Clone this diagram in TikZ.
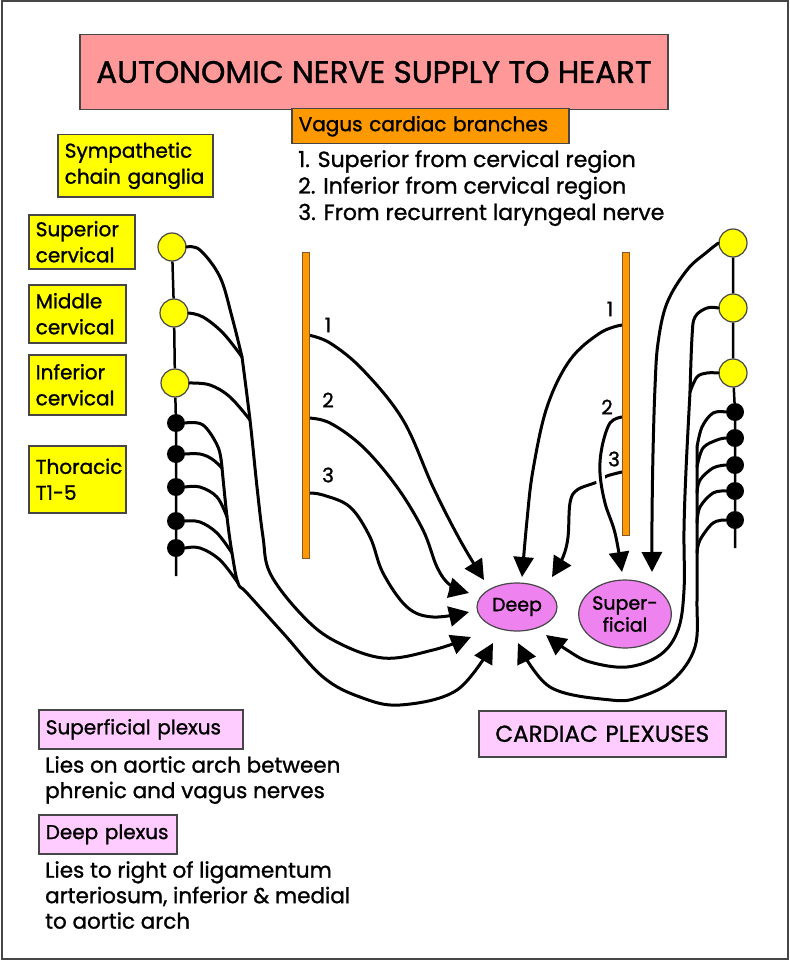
\documentclass[tikz,border=0pt]{standalone}
\usepackage{fontspec}
\setmainfont{Poppins}[FakeBold=1.2]
\usetikzlibrary{arrows.meta,shapes.geometric}

\definecolor{titlepink}{RGB}{255,153,153}
\definecolor{gangyellow}{RGB}{255,255,0}
\definecolor{vagorange}{RGB}{255,153,0}
\definecolor{plexlilac}{RGB}{255,204,255}
\definecolor{plexviolet}{RGB}{238,130,238}
\definecolor{boxgray}{RGB}{70,70,70}

\tikzset{
  boxline/.style={draw=boxgray, line width=1.5pt},
  labelbox/.style={boxline, anchor=north west, align=left, inner xsep=7pt, inner ysep=0pt,
    font=\fontsize{20}{26}\selectfont},
  gangbox/.style={labelbox, fill=gangyellow},
  plexbox/.style={labelbox, fill=plexlilac},
  notetext/.style={anchor=north west, align=left, inner xsep=7pt, inner ysep=0pt,
    font=\fontsize{21.5}{25.5}\selectfont},
  ygang/.style={circle, draw=boxgray, line width=1.2pt, fill=gangyellow, minimum size=28pt, inner sep=0pt},
  bgang/.style={circle, fill=black, minimum size=18pt, inner sep=0pt},
  chain/.style={line width=2.5pt},
  plexus/.style={ellipse, draw=boxgray, line width=1.2pt, fill=plexviolet, inner sep=0pt, align=center,
    font=\fontsize{19}{22}\selectfont},
  vagusbar/.style={draw=brown!70!black, line width=0.8pt, fill=vagorange, minimum width=7pt, inner sep=0pt},
  numlabel/.style={font=\fontsize{20}{22}\selectfont, inner sep=0pt},
  nerve/.style={line width=3pt, line cap=round, line join=round},
  toplex/.style={nerve, -{Triangle[length=20pt, width=20pt]}},
}

\begin{document}
\begin{tikzpicture}[x=1pt, y=-1pt]
\useasboundingbox (0,0) rectangle (789,960);
\draw[line width=2pt, draw=boxgray] (1.5,1.5) rectangle (787.5,958.5);

% title and boxes
\node[boxline, fill=titlepink, minimum width=588pt, minimum height=75pt,
  font=\fontsize{31}{33}\selectfont] (title) at (374,72) {AUTONOMIC NERVE SUPPLY TO HEART};
\node[labelbox, fill=vagorange, text width=263pt, minimum height=35pt] (vagbox) at (291,108) {Vagus cardiac branches};
\node[notetext, font=\fontsize{22}{26.5}\selectfont] (vaglist) at (291,150) {1. Superior from cervical region\\2. Inferior from cervical region\\3. From recurrent laryngeal nerve};

\node[gangbox, text width=141pt, minimum height=62pt] (sympbox) at (57,134) {Sympathetic\\chain ganglia};
\node[gangbox, text width=92pt, minimum height=54pt] (supbox) at (28,214) {Superior\\cervical};
\node[gangbox, text width=83pt, minimum height=58pt] (midbox) at (28,284) {Middle\\cervical};
\node[gangbox, text width=83pt, minimum height=60pt] (infbox) at (28,354) {Inferior\\cervical};
\node[gangbox, text width=83pt, minimum height=67pt] (thorbox) at (28,445) {Thoracic\\T1-5};

\node[plexbox, text width=190pt, minimum height=39pt] (supplex) at (38,709) {Superficial plexus};
\node[notetext] (supnote) at (38,756) {Lies on aortic arch between\\phrenic and vagus nerves};
\node[plexbox, text width=124pt, minimum height=39pt] (deepplex) at (38,814) {Deep plexus};
\node[notetext] (deepnote) at (38,861) {Lies to right of ligamentum\\arteriosum, inferior \& medial\\to aortic arch};
\node[plexbox, align=center, text width=233pt, minimum height=46pt, font=\fontsize{23}{26}\selectfont] (cardbox) at (478,710) {CARDIAC PLEXUSES};

% sympathetic chains
\node[ygang] (lsup) at (172,247) {};
\node[ygang] (lmid) at (174,313) {};
\node[ygang] (linf) at (175,383) {};
\node[bgang] (lt1) at (176,423) {};
\node[bgang] (lt2) at (176,454) {};
\node[bgang] (lt3) at (176,487) {};
\node[bgang] (lt4) at (176,521) {};
\node[bgang] (lt5) at (176,548) {};
\coordinate (lend) at (176,576);
\draw[chain] (lsup) -- (lmid) -- (linf) -- (lt1) -- (lt2) -- (lt3) -- (lt4) -- (lt5) -- (lend);

\node[ygang] (rsup) at (733,243) {};
\node[ygang] (rmid) at (733,308) {};
\node[ygang] (rinf) at (733,373) {};
\node[bgang] (rt1) at (735,412) {};
\node[bgang] (rt2) at (735,438) {};
\node[bgang] (rt3) at (735,465) {};
\node[bgang] (rt4) at (735,491) {};
\node[bgang] (rt5) at (735,520) {};
\coordinate (rend) at (735,548);
\draw[chain] (rsup) -- (rmid) -- (rinf) -- (rt1) -- (rt2) -- (rt3) -- (rt4) -- (rt5) -- (rend);

% plexuses
\node[plexus, minimum width=80pt, minimum height=48pt] (deep) at (517,607) {Deep};
\node[plexus, minimum width=92pt, minimum height=68pt] (superf) at (625,614) {Super-\\ficial};

% junctions and vagus branch points
\coordinate (jl1) at (242,357);
\coordinate (jl2) at (250,420);
\coordinate (jt1) at (222,468);
\coordinate (jt2) at (227,517);
\coordinate (jt3) at (232,553);
\coordinate (jt4) at (238,583);
\coordinate (jr1) at (690,392);
\coordinate (jr2) at (697,447);
\coordinate (jr3) at (697,467);
\coordinate (jr4) at (697,493);
\coordinate (jr5) at (697,523);
\coordinate (jr6) at (697,553);
\coordinate (lv1) at (308,335);
\coordinate (lv2) at (308,418);
\coordinate (lv3) at (308,493);
\coordinate (rv1) at (622,325);
\coordinate (rv2) at (622,417);
\coordinate (rv3) at (622,472);

% left sympathetic
\draw[nerve] plot[smooth, tension=0.6] coordinates {(lsup.east) (200,250) (220,277) (232,317) (jl1)};
\draw[nerve] plot[smooth, tension=0.6] coordinates {(lmid.east) (203,317) (223,333) (jl1)};
\draw[nerve] plot[smooth, tension=0.6] coordinates {(linf.east) (210,385) (230,397) (jl2)};
\draw[toplex] plot[smooth, tension=0.6] coordinates {(jl1) (jl2) (257,487) (263,537) (270,573) (300,613)
  (333,640) (383,658) (433,650) ([shift={(-46,30)}]deep.center)};
\draw[nerve] plot[smooth, tension=0.6] coordinates {(lt1.east) (203,425) (218,447) (jt1)};
\draw[nerve] plot[smooth, tension=0.6] coordinates {(lt2.east) (200,454) (212,459) (jt1)};
\draw[nerve] plot[smooth, tension=0.6] coordinates {(lt3.east) (200,487) (217,497) (jt2)};
\draw[nerve] plot[smooth, tension=0.6] coordinates {(lt4.east) (200,522) (217,533) (jt3)};
\draw[nerve] plot[smooth, tension=0.6] coordinates {(lt5.east) (200,548) (220,560) (jt4)};
\draw[toplex] plot[smooth, tension=0.6] coordinates {(jt1) (jt2) (jt3) (jt4) (247,593) (283,633) (323,677)
  (360,697) (400,705) (457,690) ([shift={(-24,36)}]deep.center)};

% left vagus
\draw[toplex] plot[smooth, tension=0.6] coordinates {(lv1) (330,343) (363,370) (403,420) (433,487) (460,540)
  ([shift={(-33,-27)}]deep.center)};
\draw[toplex] plot[smooth, tension=0.6] coordinates {(lv2) (330,423) (363,447) (397,487) (423,530) (437,567)
  (450,585) ([shift={(-48,-14)}]deep.center)};
\draw[toplex] plot[smooth, tension=0.6] coordinates {(lv3) (323,495) (350,507) (370,537) (383,573) (407,607)
  (433,617) ([shift={(-48,5)}]deep.center)};

% right vagus
\draw[toplex] plot[smooth, tension=0.6] coordinates {(rv1) (600,333) (570,360) (547,407) (533,470) (527,520)
  ([shift={(5,-30)}]deep.center)};
\draw[toplex] plot[smooth, tension=0.6] coordinates {(rv3) (607,476) (597,482) (577,490) (570,503) (568,537)
  (563,557) ([shift={(35,-30)}]deep.center)};
\draw[toplex, preaction={draw=white, line width=9pt, -}] plot[smooth, tension=0.6] coordinates {(rv2) (610,423)
  (602,447) (600,473) (605,503) (615,533) ([shift={(-3,-42)}]superf.center)};

% right sympathetic
\draw[toplex] plot[smooth, tension=0.6] coordinates {(rsup.west) (707,252) (687,270) (667,303) (658,343)
  (655,387) (653,453) (652,520) ([shift={(27,-42)}]superf.center)};
\draw[nerve] plot[smooth, tension=0.6] coordinates {(rmid.west) (707,308) (695,317) (692,337) (jr1)};
\draw[nerve] plot[smooth, tension=0.6] coordinates {(rinf.west) (707,373) (697,377) (jr1)};
\draw[toplex] plot[smooth, tension=0.6] coordinates {(jr1) (686,470) (684,530) (684,590) (678,630) (660,655)
  (627,667) (590,662) (567,650) ([shift={(29,28)}]deep.center)};
\draw[nerve] plot[smooth, tension=0.6] coordinates {(rt1.west) (713,413) (702,427) (jr2)};
\draw[nerve] plot[smooth, tension=0.6] coordinates {(rt2.west) (717,440) (703,448) (jr3)};
\draw[nerve] plot[smooth, tension=0.6] coordinates {(rt3.west) (713,468) (700,480) (jr4)};
\draw[nerve] plot[smooth, tension=0.6] coordinates {(rt4.west) (713,493) (700,507) (jr5)};
\draw[nerve] plot[smooth, tension=0.6] coordinates {(rt5.west) (713,523) (700,540) (jr6)};
\draw[toplex] plot[smooth, tension=0.6] coordinates {(jr2) (jr3) (jr4) (jr5) (jr6) (697,600) (695,647)
  (673,680) (640,697) (611,700) (550,687) ([shift={(1,36)}]deep.center)};

% vagus nerves
\node[vagusbar, minimum height=306pt] (lvag) at (305.5,405) {};
\node[vagusbar, minimum height=283pt] (rvag) at (625.5,393.5) {};
\node[numlabel] (l1) at (328,325) {1};
\node[numlabel] (l2) at (328,400) {2};
\node[numlabel] (l3) at (328,475) {3};
\node[numlabel] (r1) at (610,309) {1};
\node[numlabel] (r2) at (607,407) {2};
\node[numlabel] (r3) at (614,459) {3};
\end{tikzpicture}
\end{document}
